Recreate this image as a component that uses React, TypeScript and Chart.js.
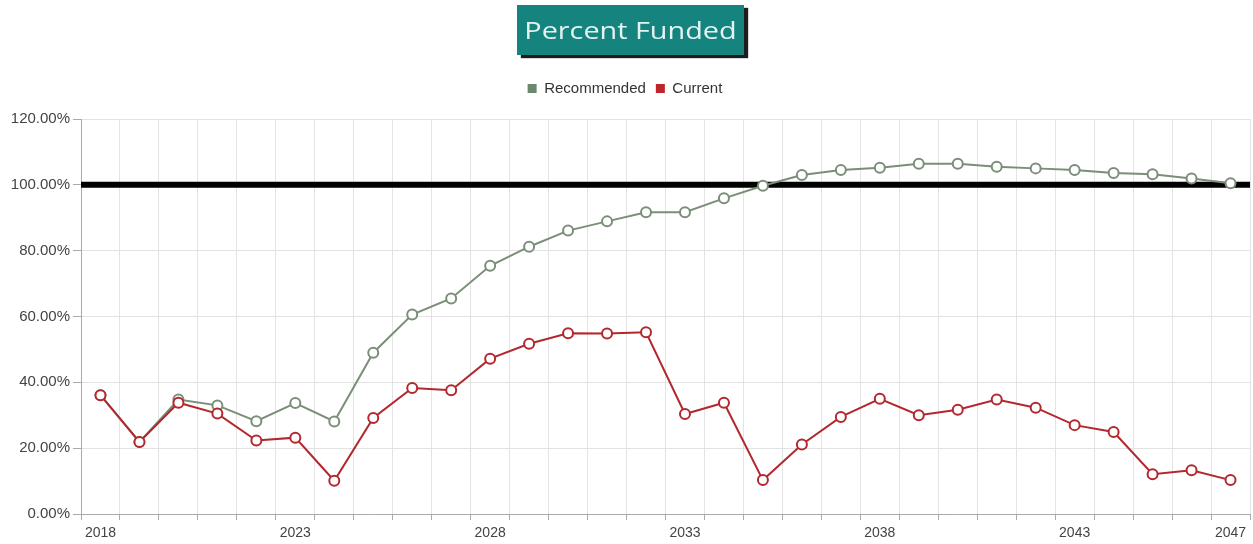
import React, { useEffect, useRef } from "react";
import { Chart, registerables } from "chart.js";

Chart.register(...registerables);

const years: string[] = [
  "2018", "2019", "2020", "2021", "2022", "2023", "2024", "2025", "2026", "2027",
  "2028", "2029", "2030", "2031", "2032", "2033", "2034", "2035", "2036", "2037",
  "2038", "2039", "2040", "2041", "2042", "2043", "2044", "2045", "2046", "2047",
];

const recommended: number[] = [
  36.1, 21.9, 34.8, 33.0, 28.2, 33.7, 28.1, 49.0, 60.6, 65.5,
  75.4, 81.2, 86.1, 88.9, 91.7, 91.7, 95.9, 99.7, 103.0, 104.5,
  105.2, 106.4, 106.4, 105.5, 105.0, 104.5, 103.6, 103.2, 101.9, 100.5,
];

const current: number[] = [
  36.1, 21.9, 33.8, 30.5, 22.3, 23.2, 10.1, 29.2, 38.3, 37.6,
  47.2, 51.7, 54.9, 54.8, 55.2, 30.4, 33.8, 10.3, 21.1, 29.5,
  35.0, 30.0, 31.7, 34.8, 32.3, 27.0, 24.9, 12.1, 13.3, 10.3,
];

const targetLine = 100;
const yTicks = { min: 0, max: 120, step: 20 };
const shownYearIdx: number[] = [0, 5, 10, 15, 20, 25, 29];

const FONT = "'Liberation Sans', Arial, sans-serif";

const targetPlugin = {
  id: "targetLine",
  beforeDatasetsDraw(chart: any) {
    const { ctx, chartArea, scales } = chart;
    const y = scales.y.getPixelForValue(targetLine);
    ctx.save();
    ctx.strokeStyle = "#000";
    ctx.lineWidth = 6;
    ctx.beginPath();
    ctx.moveTo(chartArea.left, y);
    ctx.lineTo(chartArea.right, y);
    ctx.stroke();
    ctx.restore();
  },
};

const legendSpacer = {
  id: "legendSpacer",
  beforeInit(chart: any) {
    const legend = chart.legend;
    if (!legend) return;
    const orig = legend.fit;
    legend.fit = function () {
      orig.call(this);
      this.height += 13;
    };
  },
};

export default function App() {
  const ref = useRef<HTMLCanvasElement | null>(null);

  useEffect(() => {
    if (!ref.current) return;
    const chart = new Chart(ref.current, {
      type: "line",
      data: {
        labels: years,
        datasets: [
          {
            label: "Recommended",
            data: recommended,
            borderColor: "#7a8e78",
            backgroundColor: "#6c886c",
            borderWidth: 2,
            pointRadius: 5,
            pointHoverRadius: 5,
            pointBorderWidth: 2,
            pointBackgroundColor: "#ffffff",
            pointBorderColor: "#7a8e78",
            tension: 0,
            order: 1,
          },
          {
            label: "Current",
            data: current,
            borderColor: "#b3282e",
            backgroundColor: "#c0232a",
            borderWidth: 2,
            pointRadius: 5,
            pointHoverRadius: 5,
            pointBorderWidth: 2,
            pointBackgroundColor: "#ffffff",
            pointBorderColor: "#b3282e",
            tension: 0,
            order: 0,
          },
        ],
      },
      options: {
        animation: false,
        responsive: false,
        maintainAspectRatio: false,
        layout: { autoPadding: false, padding: { top: 71, right: 3, left: 0, bottom: 0 } },
        plugins: {
          title: { display: false },
          tooltip: { enabled: false },
          legend: {
            position: "top",
            labels: {
              boxWidth: 9,
              boxHeight: 9,
              padding: 10,
              color: "#333",
              font: { family: FONT, size: 15 },
              sort: (a: any, b: any) => a.datasetIndex - b.datasetIndex,
              generateLabels: (c: any) => {
                const items = (Chart as any).defaults.plugins.legend.labels.generateLabels(c);
                return items.map((it: any) => ({
                  ...it,
                  fillStyle: c.data.datasets[it.datasetIndex].backgroundColor,
                  lineWidth: 0,
                  strokeStyle: "transparent",
                }));
              },
            },
          },
        },
        scales: {
          x: {
            type: "category",
            offset: true,
            afterFit: (s: any) => {
              s.height = 30;
              s.paddingLeft = 0;
              s.paddingRight = 0;
            },
            grid: {
              offset: true,
              color: "#e3e3e3",
              tickColor: "#aaa",
              tickLength: 6,
              drawTicks: true,
            },
            border: { color: "#aaa", width: 1 },
            ticks: {
              autoSkip: false,
              maxRotation: 0,
              padding: 5,
              color: "#444",
              font: { family: FONT, size: 14 },
              callback: (_v: any, i: number) => (shownYearIdx.includes(i) ? years[i] : ""),
            },
          },
          y: {
            min: yTicks.min,
            max: yTicks.max,
            afterFit: (s: any) => {
              s.width = 81;
            },
            grid: {
              color: "#e3e3e3",
              tickColor: "#aaa",
              tickLength: 8,
            },
            border: { color: "#aaa", width: 1 },
            ticks: {
              stepSize: yTicks.step,
              padding: 3,
              color: "#444",
              font: { family: FONT, size: 15 },
              callback: (v: any) => Number(v).toFixed(2) + "%",
            },
          },
        },
      },
      plugins: [targetPlugin, legendSpacer],
    });
    return () => chart.destroy();
  }, []);

  return (
    <div
      style={{
        position: "fixed",
        left: 0,
        top: 0,
        width: 1253,
        height: 544,
        background: "#fff",
        overflow: "hidden",
      }}
    >
      <canvas
        ref={ref}
        width={1253}
        height={544}
        style={{ position: "absolute", left: 0, top: 0, width: 1253, height: 544 }}
      />
      <div
        style={{
          position: "absolute",
          left: 517,
          top: 5,
          width: 227,
          height: 50,
          background: "#15847f",
          boxShadow: "4px 3px 1px #1c1c1c",
          display: "flex",
          alignItems: "center",
          justifyContent: "center",
        }}
      >
        <span
          style={{
            display: "inline-block",
            fontFamily: "'Open Sans', sans-serif",
            fontSize: 24,
            color: "#e3f3f0",
            transform: "scaleX(1.2)",
            whiteSpace: "nowrap",
            lineHeight: "24px",
          }}
        >
          Percent Funded
        </span>
      </div>
    </div>
  );
}
